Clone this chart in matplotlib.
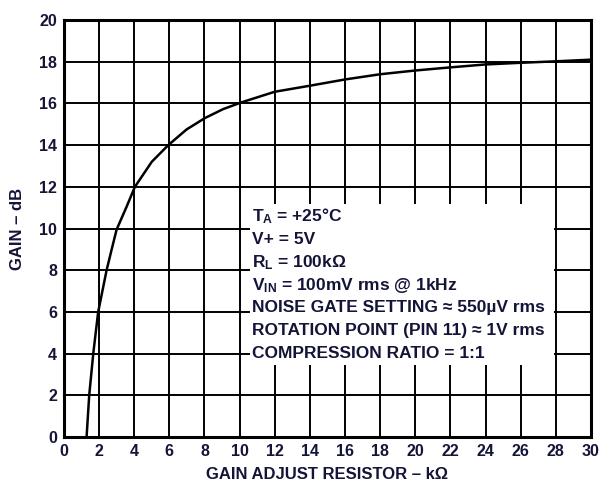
import matplotlib.pyplot as plt
from matplotlib.patches import Rectangle

# gain vs. gain adjust resistor
resistor_k = [1.29, 1.44, 1.67, 1.95, 2.43, 2.71, 3.0, 3.57, 4.04, 5.0, 5.94,
              6.98, 8.03, 9.07, 10.1, 12.0, 14.0, 16.0, 18.0, 20.0, 22.0,
              24.0, 26.0, 28.0, 30.0]
gain_db = [0.0, 2.0, 4.0, 6.0, 8.0, 8.97, 9.95, 11.05, 12.0, 13.2, 14.0,
           14.75, 15.3, 15.73, 16.05, 16.56, 16.85, 17.15, 17.4, 17.58, 17.73,
           17.87, 17.95, 18.02, 18.1]

x_ticks = list(range(0, 31, 2))
y_ticks = list(range(0, 21, 2))

conditions = [
    r"T$_\mathbf{A}$ = +25°C",
    "V+ = 5V",
    r"R$_\mathbf{L}$ = 100kΩ",
    r"V$_\mathbf{IN}$ = 100mV rms @ 1kHz",
    "NOISE GATE SETTING ≈ 550µV rms",
    "ROTATION POINT (PIN 11) ≈ 1V rms",
    "COMPRESSION RATIO = 1:1",
]

plt.rcParams['font.family'] = ['Liberation Sans', 'DejaVu Sans']
plt.rcParams['mathtext.fontset'] = 'custom'
plt.rcParams['mathtext.rm'] = 'Liberation Sans:bold'
plt.rcParams['mathtext.bf'] = 'Liberation Sans:bold'
plt.rcParams['mathtext.it'] = 'Liberation Sans:bold'

txt_col = '#141438'

fig = plt.figure(figsize=(6.03, 4.82), dpi=100)
ax = fig.add_axes([0.106, 0.0934, 0.874, 0.865])

ax.set_xlim(0, 30)
ax.set_ylim(0, 20)
ax.set_xticks(x_ticks)
ax.set_yticks(y_ticks)
ax.grid(True, color='black', linewidth=1.4)
ax.set_axisbelow(True)
ax.tick_params(length=0, pad=5, labelsize=11.5, labelcolor=txt_col)
for lab in ax.get_xticklabels() + ax.get_yticklabels():
    lab.set_fontweight('bold')
for sp in ax.spines.values():
    sp.set_linewidth(2.2)

ax.plot(resistor_k, gain_db, color='black', linewidth=1.8, zorder=3,
        solid_joinstyle='round')

# white panel behind the test conditions
ax.add_patch(Rectangle((10.6, 3.45), 17.3, 7.75, facecolor='white',
                       edgecolor='none', zorder=4))
y0 = 10.57
for i, line in enumerate(conditions):
    ax.text(10.7, y0 - i * 1.095, line, fontsize=12.5, fontweight='bold',
            color=txt_col, va='center', ha='left', zorder=5)

ax.set_xlabel("GAIN ADJUST RESISTOR – kΩ", fontsize=12, fontweight='bold',
              color=txt_col, labelpad=6)
ax.set_ylabel("GAIN – dB", fontsize=12, fontweight='bold', color=txt_col,
              labelpad=10)

fig.savefig('out.png', dpi=100)
